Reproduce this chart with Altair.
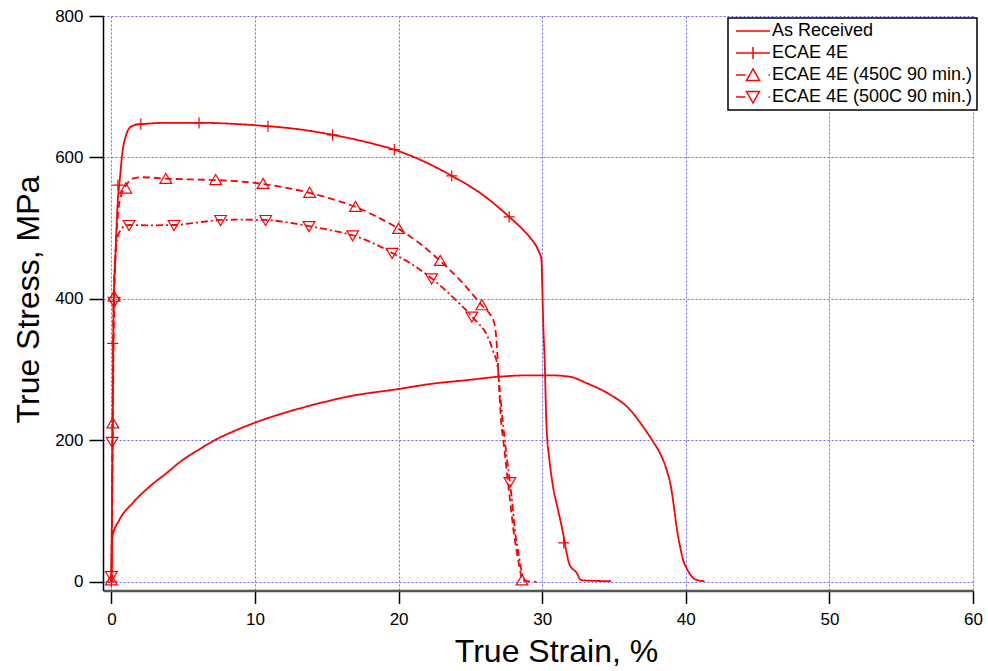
import altair as alt
import pandas as pd

series_names = ["As Received", "ECAE 4E", "ECAE 4E (450C 90 min.)", "ECAE 4E (500C 90 min.)"]

# As Received
ar_x = [0, 0.03, 0.07, 0.54, 1.46, 2.62, 3.79, 4.94, 6.10, 7.26, 8.42, 10.0, 11.9, 14.2, 16.5, 20.0, 22.3,
        24.7, 27.0, 29.13, 30.52, 31.91, 33.08, 34.7, 36.1, 37.0, 37.7, 38.2, 38.65, 39.0, 39.2, 39.35,
        39.6, 39.8, 40.04, 40.4, 40.7, 41.3]
ar_y = [0, 40, 64, 87, 111, 134, 153, 172, 187, 201, 212, 225, 238, 251, 262, 272.6, 280,
        285, 290, 292, 292, 290, 281, 265, 243.6, 220, 198.8, 182, 159, 130.5, 102, 78.6,
        50, 31.5, 19.8, 8, 3, 0.8]

# ECAE 4E
e4_x = [0, 0.08, 0.15, 0.3, 0.42, 0.58, 0.8, 1.0, 1.2, 1.5, 2.05, 4.0, 6.1, 8.5, 10.7, 13.0, 15.4, 17.5,
        19.7, 21.8, 23.7, 25.8, 27.7, 28.7, 29.3, 29.7, 29.95, 30.0, 30.08, 30.17, 30.3, 30.5, 30.75,
        31.1, 31.45, 31.7, 31.9, 32.4, 32.7, 34.8]
e4_y = [0, 200, 380, 470, 530, 568, 612, 630, 640, 645, 647, 649, 649, 647.5, 644.5, 640, 632, 623,
        611, 594, 574, 548, 516, 497, 483, 470, 455, 420, 360, 314, 220, 173, 135,
        102, 69, 41, 24.5, 12.7, 2.3, 0.8]

# ECAE 4E (450C 90 min.)
e45_x = [0, 0.05, 0.1, 0.15, 0.2, 0.3, 0.42, 0.55, 0.7, 1.0, 1.46, 2.2, 3.8, 5.5, 7.26, 9.0, 10.56, 12.2,
         13.8, 15.4, 17.0, 18.5, 20.0, 21.5, 22.9, 24.4, 25.8, 26.3, 26.6, 26.8, 26.9, 27.0, 27.1, 27.35,
         27.6, 27.8, 28.0, 28.25, 28.5, 28.6, 29.6]
e45_y = [0, 100, 225, 330, 400, 470, 511, 535, 548, 560, 570, 572, 570, 569, 568, 566, 562.5, 557,
         550, 541, 530, 516, 499, 478, 453.6, 424, 391, 380, 370, 345, 313.6, 275, 238, 190,
         144, 108, 73, 40, 12, 2, 0]

# ECAE 4E (500C 90 min.)
e50_x = [0, 0.05, 0.1, 0.15, 0.25, 0.35, 0.5, 0.65, 0.88, 1.23, 2.5, 4.36, 6.0, 7.6, 9.0, 10.74, 12.3,
         13.76, 15.3, 16.8, 18.2, 19.55, 21.0, 22.3, 23.7, 25.1, 26.3, 26.6, 26.9, 27.05, 27.2, 27.45,
         27.75, 27.95, 28.1, 28.35, 28.6, 28.8]
e50_y = [0, 150, 300, 400, 455, 478, 492, 497, 503, 504.5, 504, 504.5, 508, 511.6, 512, 511.6, 508,
         503, 497, 490, 479, 465, 448, 429, 404, 375, 342, 325, 304, 270, 238, 190,
         141, 105, 73, 40, 12, 2]

# marker positions
m4_x = [0, 0.1, 0.45, 2.05, 6.1, 10.9, 15.4, 19.7, 23.7, 27.7, 31.5]
m4_y = [0, 337, 561, 647, 649, 644, 632, 611, 574, 516, 55]
m45_x = [0, 0.1, 0.19, 1.0, 3.79, 7.26, 10.56, 13.8, 17.0, 20.0, 22.9, 25.8, 28.6]
m45_y = [2, 224, 403, 556, 569.6, 568, 562.5, 550, 530, 499, 453.6, 391, 2]
m50_x = [0, 0.05, 0.19, 1.23, 4.36, 7.6, 10.74, 13.76, 16.8, 19.55, 22.3, 25.1, 27.75]
m50_y = [8, 198, 396, 504.5, 504.5, 511.6, 511.6, 503, 490, 465, 429, 375, 141]

x_ticks = [0, 10, 20, 30, 40, 50, 60]
y_ticks = [0, 200, 400, 600, 800]

rows = []
for name, xs_, ys_ in zip(series_names, [ar_x, e4_x, e45_x, e50_x], [ar_y, e4_y, e45_y, e50_y]):
    for i, (a, b) in enumerate(zip(xs_, ys_)):
        rows.append({"series": name, "i": i, "x": a, "y": b})
lines_df = pd.DataFrame(rows)

mrows = []
for name, xs_, ys_ in zip(series_names[1:], [m4_x, m45_x, m50_x], [m4_y, m45_y, m50_y]):
    for a, b in zip(xs_, ys_):
        mrows.append({"series": name, "x": a, "y": b})
mk_df = pd.DataFrame(mrows)

leg_df = pd.DataFrame({"series": series_names, "x": [-30] * 4, "y": [-300] * 4})

RED = "#ff0000"
FONT = "Liberation Sans"
GRID = "#6a6aff"

xscale = alt.Scale(domain=[-0.585, 60], nice=False, zero=False)
yscale = alt.Scale(domain=[-12.3, 800], nice=False, zero=False)

xaxis = alt.Axis(values=x_ticks, tickSize=13, tickWidth=1.5, tickColor="black",
                 domainColor="#555555", domainWidth=2.5, labelFontSize=17, labelFont=FONT,
                 labelColor="black", labelPadding=8, labelFlush=False,
                 title="True Strain, %", titleFont=FONT, titleFontSize=32, titleFontWeight="normal",
                 titleColor="black", titleX=453, titleY=71, titleBaseline="alphabetic", titleAlign="center",
                 grid=True, gridColor=GRID, gridDash=[2, 2], gridWidth=1, gridOpacity=1)
yaxis = alt.Axis(values=y_ticks, tickSize=14, tickWidth=1.5, tickColor="black",
                 domainColor="black", domainWidth=1.5, labelFontSize=17, labelFont=FONT,
                 labelColor="black", labelPadding=6, labelFlush=False,
                 title="True Stress, MPa", titleFont=FONT, titleFontSize=32, titleFontWeight="normal",
                 titleColor="black", titleX=-65, titleY=283, titleBaseline="alphabetic", titleAlign="center",
                 grid=True, gridColor=GRID, gridDash=[2, 2], gridWidth=1, gridOpacity=1)

lines = alt.Chart(lines_df).mark_line(color=RED, strokeWidth=1.8, interpolate="monotone").encode(
    x=alt.X("x:Q", scale=xscale, axis=xaxis),
    y=alt.Y("y:Q", scale=yscale, axis=yaxis),
    strokeDash=alt.StrokeDash("series:N", scale=alt.Scale(domain=series_names,
                              range=[[1, 0], [1, 0], [7, 4], [7, 3, 2, 3]]), legend=None),
    detail="series:N",
    order="i:Q",
)

plus = "M-1,0H1M0,-1V1"
tri_up = "M-1.05,0.8L1.05,0.8L0,-1Z"
tri_down = "M-1.05,-0.8L1.05,-0.8L0,1Z"

points = alt.Chart(mk_df).mark_point(color=RED, filled=False, strokeWidth=1.2, size=125, opacity=1).encode(
    x=alt.X("x:Q", scale=xscale),
    y=alt.Y("y:Q", scale=yscale),
    shape=alt.Shape("series:N", scale=alt.Scale(domain=series_names[1:], range=[plus, tri_up, tri_down]),
                    legend=None),
)

leg_paths = [
    "M-3.4,0H3.4",
    "M-3.4,0H3.4M0,-1.2V1.2",
    "M-3.4,0H-1.5M-1.3,1.1L1.3,1.1L0,-1.2ZM3.1,0H3.4",
    "M-3.4,0H-1.5M-1.3,-1.1L1.3,-1.1L0,1.2ZM3.1,0H3.4",
]

legend_layer = alt.Chart(leg_df).mark_point(color=RED, filled=False, strokeWidth=1.5, size=100,
                                            opacity=1, clip=True).encode(
    x=alt.X("x:Q", scale=xscale),
    y=alt.Y("y:Q", scale=yscale),
    shape=alt.Shape("series:N", scale=alt.Scale(domain=series_names, range=leg_paths),
                    legend=alt.Legend(title=None, orient="none", legendX=625, legendY=2,
                                      direction="vertical", symbolSize=100, symbolStrokeWidth=1.5,
                                      symbolStrokeColor=RED, symbolFillColor="transparent",
                                      symbolOffset=12, labelOffset=10, labelFont=FONT, labelFontSize=18,
                                      labelColor="black", labelLimit=400, rowPadding=4, padding=4,
                                      strokeColor="black", fillColor="white", cornerRadius=0)),
)

chart = alt.layer(lines, points, legend_layer).resolve_scale(shape="independent").properties(
    width=870, height=574.5,
    padding={"left": 103, "top": 16, "right": 15, "bottom": 80},
    autosize=alt.AutoSizeParams(type="none"),
    background="white",
).configure_view(stroke=None).configure_legend(strokeWidth=1.5)

chart.save("out.html", embed_options={"renderer": "svg", "actions": False})
